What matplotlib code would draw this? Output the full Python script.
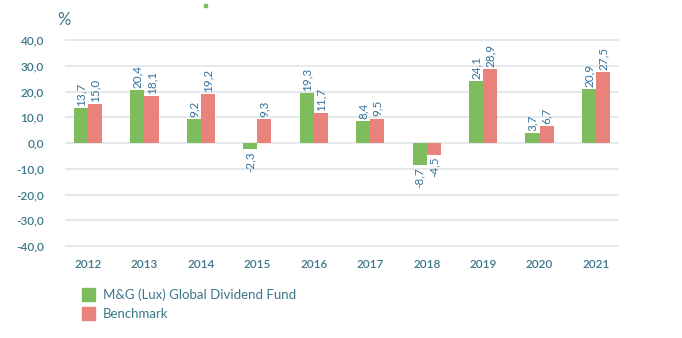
import matplotlib.pyplot as plt
import numpy as np
from matplotlib.patches import Rectangle

plt.rcParams['font.family'] = ['Lato', 'DejaVu Sans']

# Rendimientos anuales (%)
anios = ['2012', '2013', '2014', '2015', '2016', '2017', '2018', '2019', '2020', '2021']
fondo = [13.7, 20.4, 9.2, -2.3, 19.3, 8.4, -8.7, 24.1, 3.7, 20.9]
benchmark = [15.0, 18.1, 19.2, 9.3, 11.7, 9.5, -4.5, 28.9, 6.7, 27.5]
nombres = ['M&G (Lux) Global Dividend Fund', 'Benchmark']

VERDE = '#7dbd5e'
ROJO = '#e8827a'
TEXTO = '#3b7789'
ETIQ = '#34709a'
GRID = '#dfe5e8'

fig = plt.figure(figsize=(6.82, 3.38), dpi=100)
ax = fig.add_axes([66 / 682, 1 - 246 / 338, 552 / 682, 206 / 338])

x = np.arange(len(anios))
ancho = 0.25

ax.set_ylim(-40, 40)
ax.set_xlim(-0.39, 9.39)
for v in range(-40, 41, 10):
    ax.axhline(v, color=GRID, lw=1.2, zorder=0, clip_on=False)

b1 = ax.bar(x - ancho / 2, fondo, ancho, color=VERDE, zorder=2)
b2 = ax.bar(x + ancho / 2, benchmark, ancho, color=ROJO, zorder=2)

def etiquetar(barras, valores):
    for barra, v in zip(barras, valores):
        cx = barra.get_x() + barra.get_width() / 2
        txt = f'{v:.1f}'.replace('.', ',')
        if v >= 0:
            ax.text(cx, v + 0.8, txt, rotation=90, ha='center', va='bottom',
                    fontsize=8.5, color=ETIQ)
        else:
            ax.text(cx, v - 0.8, txt, rotation=90, ha='center', va='top',
                    fontsize=8.5, color=ETIQ)

etiquetar(b1, fondo)
etiquetar(b2, benchmark)

ax.set_xticks(x)
ax.set_xticklabels(anios, fontweight='semibold')
ax.set_yticks(range(-40, 41, 10))
ax.set_yticklabels([f'{v:.1f}'.replace('.', ',') for v in range(-40, 41, 10)],
                   fontweight='semibold')
ax.tick_params(length=0, labelsize=8.5, colors=TEXTO)
ax.tick_params(axis='x', pad=9)
ax.tick_params(axis='y', pad=16)
for s in ax.spines.values():
    s.set_visible(False)

fig.text(57 / 682, 1 - 20 / 338, '%', fontsize=12, color=TEXTO, va='center')

# leyenda manual
for i, (nom, col) in enumerate(zip(nombres, [VERDE, ROJO])):
    y0 = 1 - (301 + i * 19) / 338
    fig.patches.append(Rectangle((82 / 682, y0), 13 / 682, 13 / 338,
                                 transform=fig.transFigure, color=col))
    fig.text(103 / 682, y0 + 6.5 / 338, nom, fontsize=9.5, color=TEXTO, va='center')

fig.patches.append(Rectangle((204 / 682, 1 - 7 / 338), 3 / 682, 3 / 338,
                             transform=fig.transFigure, color=VERDE))

fig.savefig('out.png', dpi=100)
